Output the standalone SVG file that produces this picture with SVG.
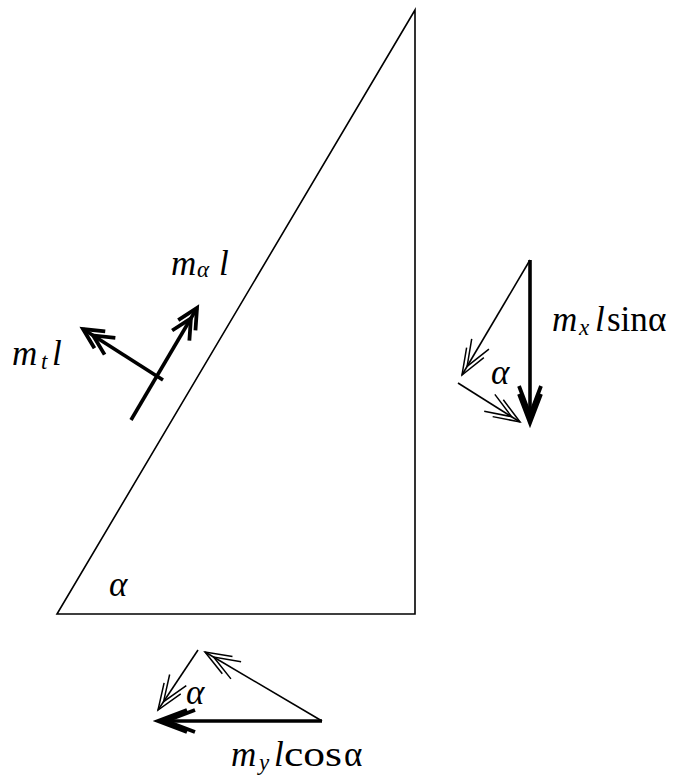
<svg xmlns="http://www.w3.org/2000/svg" width="678" height="781" viewBox="0 0 678 781" font-family="'Liberation Serif', 'DejaVu Serif', serif">
<style>
.thin{fill:none;stroke:#000;stroke-width:1.6}
.thick{fill:none;stroke:#000;stroke-width:3.6}
text{font-family:'Liberation Serif','DejaVu Serif',serif;font-size:35px;fill:#000}
.it{font-style:italic}
.sub{font-style:italic;font-size:23px}
</style>
<defs>
<marker id="hThin" markerUnits="userSpaceOnUse" orient="auto" refX="0" refY="0" markerWidth="60" markerHeight="40" viewBox="-50 -20 60 40" overflow="visible">
<path d="M-26,-10 L0,0 L-26,10 M-36,-10 L-10,0 L-36,10" fill="none" stroke="#000" stroke-width="1.5"/>
</marker>
<marker id="hThickA" markerUnits="userSpaceOnUse" orient="auto" refX="0" refY="0" markerWidth="60" markerHeight="40" viewBox="-50 -20 60 40" overflow="visible">
<path d="M-20,-10 L0,0 L-20,10 M-32,-10 L-12,0 L-32,10" fill="none" stroke="#000" stroke-width="3.8"/>
</marker>
<marker id="hThickB" markerUnits="userSpaceOnUse" orient="auto" refX="0" refY="0" markerWidth="60" markerHeight="40" viewBox="-50 -20 60 40" overflow="visible">
<path d="M-29,-11 L0,0 L-29,11 M-37,-11 L-8,0 L-37,11" fill="none" stroke="#000" stroke-width="3.8"/>
</marker>
</defs>
<g id="triangle">
<polygon class="thin" points="57,614 415,614 415,10"/>
<text class="it" x="109" y="596">α</text>
</g>
<g id="connectors">
<line id="v-ma" class="thick" x1="131" y1="420" x2="197" y2="308" marker-end="url(#hThickA)"/>
<line id="v-mt" class="thick" x1="163" y1="380" x2="83" y2="329" marker-end="url(#hThickA)"/>
<line id="v-mx" class="thick" x1="530" y1="260" x2="530" y2="423" marker-end="url(#hThickB)"/>
<line id="v-x1" class="thin" x1="530" y1="260" x2="462" y2="375" marker-end="url(#hThin)"/>
<line id="v-x2" class="thin" x1="458" y1="383" x2="520" y2="422" marker-end="url(#hThin)"/>
<line id="v-my" class="thick" x1="322" y1="721" x2="158" y2="721" marker-end="url(#hThickB)"/>
<line id="v-y1" class="thin" x1="322" y1="721" x2="205" y2="652" marker-end="url(#hThin)"/>
<line id="v-y2" class="thin" x1="198" y1="650" x2="158" y2="710" marker-end="url(#hThin)"/>
</g>
<g id="label-ma">
<text class="it" x="171" y="275">m</text>
<text class="sub" x="197" y="277">α</text>
<text class="it" x="219" y="275">l</text>
</g>
<g id="label-mt">
<text class="it" x="12" y="365">m</text>
<text class="sub" x="41" y="369">t</text>
<text class="it" x="52" y="365">l</text>
</g>
<g id="label-mx">
<text class="it" x="552" y="331">m</text>
<text class="sub" x="579" y="335">x</text>
<text class="it" x="595" y="331">l</text>
<text x="607" y="331">sin</text>
<text x="648" y="331">α</text>
<text class="it" x="491" y="384">α</text>
</g>
<g id="label-my">
<text class="it" x="231" y="766">m</text>
<text class="sub" x="259" y="770">y</text>
<text class="it" x="274" y="766">l</text>
<text x="284" y="766" textLength="58" lengthAdjust="spacingAndGlyphs">cos</text>
<text x="344" y="766">α</text>
<text class="it" x="186" y="704">α</text>
</g>
</svg>
